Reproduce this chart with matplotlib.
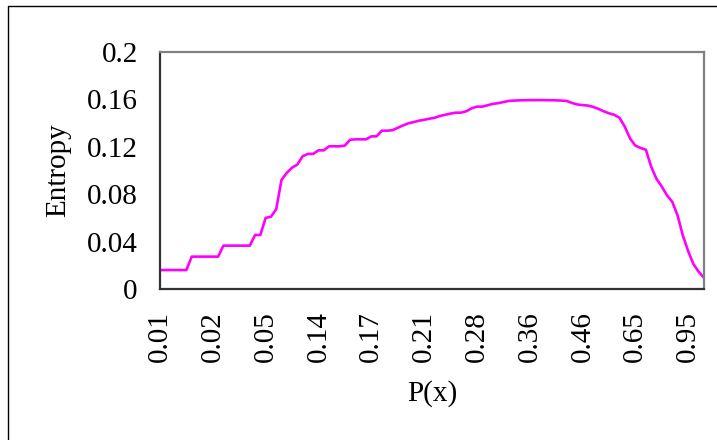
import matplotlib
matplotlib.use("Agg")
import matplotlib.pyplot as plt
from matplotlib.patches import Rectangle

entropy = [
    0.016, 0.016, 0.016, 0.016, 0.016, 0.016,
    0.0273, 0.0273, 0.0273, 0.0273, 0.0273, 0.0273,
    0.0366, 0.0366, 0.0366, 0.0366, 0.0366, 0.0366,
    0.0456, 0.0456, 0.060, 0.061, 0.0673, 0.092, 0.098, 0.1024, 0.105,
    0.112, 0.114, 0.114, 0.117, 0.117, 0.1204, 0.1204, 0.1204, 0.121,
    0.126, 0.1263, 0.1263, 0.1263, 0.1288, 0.1288, 0.1336, 0.1336, 0.134,
    0.136, 0.138, 0.1398, 0.1408, 0.142, 0.1428, 0.1437, 0.1445, 0.146,
    0.147, 0.148, 0.1488, 0.1488, 0.150, 0.1525, 0.1539, 0.1539, 0.155,
    0.1562, 0.1568, 0.1577, 0.1587, 0.159, 0.1592, 0.1593, 0.1594, 0.1594,
    0.1594, 0.1594, 0.1593, 0.1592, 0.159, 0.1587, 0.157, 0.1557, 0.1552,
    0.1548, 0.1537, 0.152, 0.150, 0.1483, 0.147, 0.1445, 0.137, 0.127,
    0.121, 0.119, 0.1175, 0.1032, 0.093, 0.0865, 0.079, 0.0735, 0.062,
    0.045, 0.032, 0.021, 0.0145, 0.0095,
]
tick_labels = ["0.01", "0.02", "0.05", "0.14", "0.17", "0.21",
               "0.28", "0.36", "0.46", "0.65", "0.95"]
tick_step = 10
y_ticks = [0, 0.04, 0.08, 0.12, 0.16, 0.2]
y_tick_labels = ["0", "0.04", "0.08", "0.12", "0.16", "0.2"]

plt.rcParams['font.family'] = ['Liberation Serif', 'DejaVu Serif']

W, H = 717, 440
FS = 21
fig = plt.figure(figsize=(W / 100, H / 100), dpi=100)
ax = fig.add_axes([160 / W, 1 - 289 / H, (704 - 160) / W, (289 - 52) / H])

x = list(range(len(entropy)))
ax.plot(x, entropy, color="#FF00FF", linewidth=1.9, solid_joinstyle="round")

ax.set_xlim(0, len(entropy) - 1)
ax.set_ylim(0, 0.2)
ax.set_xticks(list(range(0, len(tick_labels) * tick_step, tick_step)))
ax.set_xticklabels(tick_labels, rotation=90, fontsize=FS)
ax.set_yticks(y_ticks)
ax.set_yticklabels(y_tick_labels, fontsize=FS)
ax.tick_params(axis="both", length=0)
ax.tick_params(axis="y", pad=16)
ax.tick_params(axis="x", pad=16)

for s in ["top", "right"]:
    ax.spines[s].set_color("#808080")
    ax.spines[s].set_linewidth(1.6)
for s in ["left", "bottom"]:
    ax.spines[s].set_color("#333333")
    ax.spines[s].set_linewidth(1.6)

ax.set_ylabel("Entropy", fontsize=FS, labelpad=11)
ax.set_xlabel("P(x)", fontsize=FS, labelpad=13)

fig.patches.append(Rectangle((8 / W, -0.1), 1.2, 1 - 6 / H + 0.1,
                             transform=fig.transFigure, fill=False,
                             edgecolor="black", linewidth=1.0))

fig.savefig("out.png", dpi=100)
